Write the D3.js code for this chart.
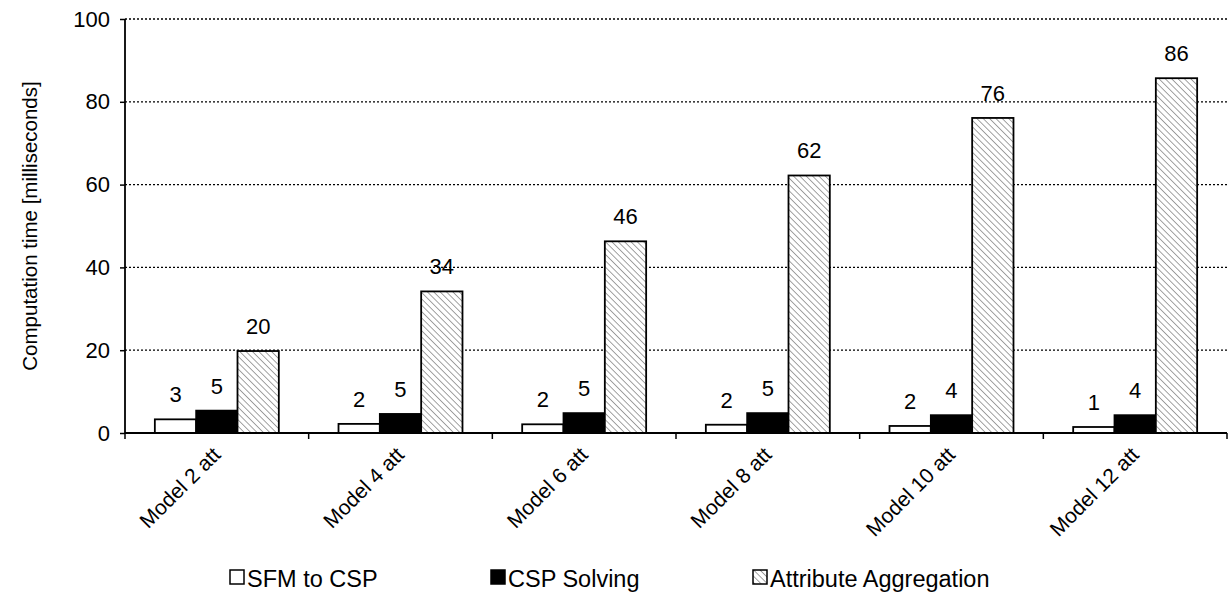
<!DOCTYPE html>
<html>
<head>
<meta charset="utf-8">
<script src="https://cdn.jsdelivr.net/npm/d3@7"></script>
<style>
  html, body { margin: 0; padding: 0; background: #fff; }
  svg { display: block; font-family: "Liberation Sans", Arial, sans-serif; }
</style>
</head>
<body>
<svg id="chart" width="1228" height="594"></svg>
<script>
// Computation time per model, in milliseconds
const categories = ["Model 2 att", "Model 4 att", "Model 6 att", "Model 8 att", "Model 10 att", "Model 12 att"];
const seriesNames = ["SFM to CSP", "CSP Solving", "Attribute Aggregation"];
const sfmToCsp = [3.3, 2.2, 2.1, 2.0, 1.7, 1.45];
const cspSolving = [5.4, 4.6, 4.8, 4.8, 4.3, 4.3];
const attributeAggregation = [19.8, 34.2, 46.3, 62.2, 76.1, 85.7];
const yTicks = [0, 20, 40, 60, 80, 100];

const seriesValues = [sfmToCsp, cspSolving, attributeAggregation];

const svg = d3.select("#chart");
const plotLeft = 125, plotRight = 1227, plotTop = 19, plotBottom = 433;

const defs = svg.append("defs");
const hatch = defs.append("pattern")
  .attr("id", "hatch")
  .attr("patternUnits", "userSpaceOnUse")
  .attr("width", 4.5).attr("height", 4.5)
  .attr("patternTransform", "rotate(-45)");
hatch.append("rect").attr("width", 4.5).attr("height", 4.5).attr("fill", "#fff");
hatch.append("line")
  .attr("x1", 0).attr("y1", 0).attr("x2", 0).attr("y2", 4.5)
  .attr("stroke", "#8c8c8c").attr("stroke-width", 1.6);

const fills = ["#ffffff", "#000000", "url(#hatch)"];

const x = d3.scaleBand().domain(categories).range([plotLeft, plotRight]).padding(0);
const groupWidth = x.bandwidth() * 0.675;
const xs = d3.scaleBand().domain(seriesNames).range([0, groupWidth]).padding(0);
const y = d3.scaleLinear().domain([0, 100]).range([plotBottom, plotTop]);

// dotted gridlines
svg.append("g")
  .selectAll("line")
  .data(yTicks.filter(d => d > 0))
  .join("line")
  .attr("x1", plotLeft).attr("x2", plotRight)
  .attr("y1", d => y(d)).attr("y2", d => y(d))
  .attr("stroke", "#000")
  .attr("stroke-width", 1.3)
  .attr("stroke-dasharray", "2,2");

// bars
const rows = categories.map((c, i) => ({ c, vals: seriesValues.map((s, k) => ({ k, name: seriesNames[k], v: s[i] })) }));

const groups = svg.append("g")
  .selectAll("g")
  .data(rows)
  .join("g")
  .attr("transform", d => `translate(${x(d.c) + (x.bandwidth() - groupWidth) / 2},0)`);

groups.selectAll("rect")
  .data(d => d.vals)
  .join("rect")
  .attr("x", d => xs(d.name))
  .attr("y", d => y(d.v))
  .attr("width", xs.bandwidth())
  .attr("height", d => y(0) - y(d.v))
  .attr("fill", d => fills[d.k])
  .attr("stroke", "#000")
  .attr("stroke-width", 1.8);

// value labels
groups.selectAll("text")
  .data(d => d.vals)
  .join("text")
  .attr("x", d => xs(d.name) + xs.bandwidth() / 2)
  .attr("y", d => y(d.v) - 17)
  .attr("text-anchor", "middle")
  .attr("font-size", 22)
  .attr("fill", "#000")
  .text(d => d3.format(".0f")(d.v));

// y axis
const yAxis = d3.axisLeft(y).tickValues(yTicks).tickSize(5).tickPadding(10).tickFormat(d3.format("d"));
const gy = svg.append("g").attr("transform", `translate(${plotLeft},0)`).call(yAxis);
gy.select(".domain").attr("stroke", "#000").attr("stroke-width", 1.8).attr("d", `M0,${plotTop}V${plotBottom + 1}`);
gy.selectAll(".tick line").attr("stroke", "#000").attr("stroke-width", 1.5);
gy.selectAll(".tick text").attr("font-size", 22).attr("fill", "#000")
  .attr("font-family", "Liberation Sans, Arial, sans-serif");

// x axis: ticks at category boundaries
const boundaries = categories.map(c => x(c)).concat([plotRight]);
const gx = svg.append("g");
gx.append("line")
  .attr("x1", plotLeft).attr("x2", plotRight)
  .attr("y1", plotBottom).attr("y2", plotBottom)
  .attr("stroke", "#000").attr("stroke-width", 1.8);
gx.selectAll("line.tk")
  .data(boundaries)
  .join("line")
  .attr("class", "tk")
  .attr("x1", d => d).attr("x2", d => d)
  .attr("y1", plotBottom).attr("y2", plotBottom + 6)
  .attr("stroke", "#000").attr("stroke-width", 1.5);
gx.selectAll("text")
  .data(categories)
  .join("text")
  .attr("transform", c => `translate(${x(c) + x.bandwidth() / 2 + 5},${plotBottom + 23}) rotate(-45)`)
  .attr("text-anchor", "end")
  .attr("font-size", 21)
  .attr("fill", "#000")
  .text(c => c);

// y axis title
svg.append("text")
  .attr("transform", `translate(37,${(plotTop + plotBottom) / 2}) rotate(-90)`)
  .attr("text-anchor", "middle")
  .attr("font-size", 20.5)
  .attr("fill", "#000")
  .text("Computation time [milliseconds]");

// legend
const legendX = [230, 491, 753];
const legend = svg.append("g")
  .selectAll("g")
  .data(seriesNames)
  .join("g")
  .attr("transform", (d, i) => `translate(${legendX[i]},570)`);
legend.append("rect")
  .attr("x", 0).attr("y", 0).attr("width", 14).attr("height", 14)
  .attr("fill", (d, i) => fills[i])
  .attr("stroke", "#000").attr("stroke-width", 1.5);
legend.append("text")
  .attr("x", 17).attr("y", 17)
  .attr("font-size", 23.5)
  .attr("fill", "#000")
  .text(d => d);
</script>
</body>
</html>
